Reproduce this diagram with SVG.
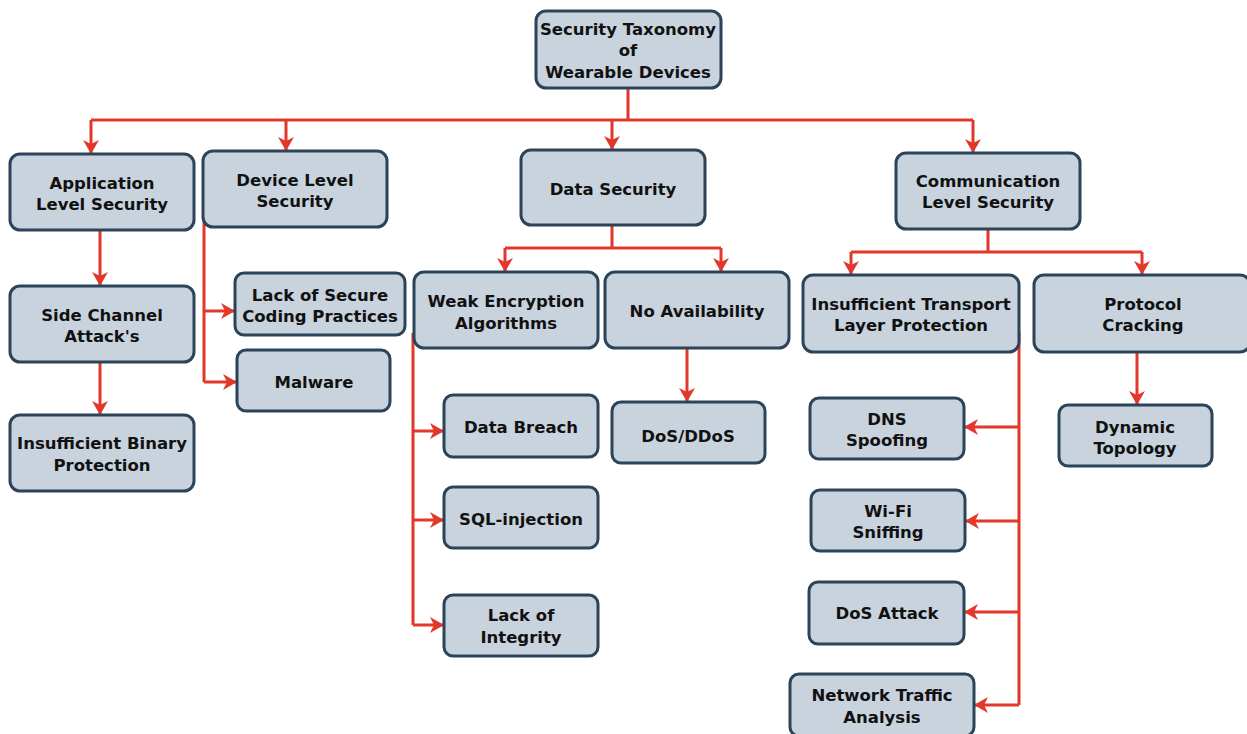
<svg xmlns="http://www.w3.org/2000/svg" width="1247" height="734" viewBox="0 0 1247 734">
<defs>
<style>
.n rect{fill:#c8d3de;stroke:#2b4459;stroke-width:3}
.n text{font-family:"DejaVu Sans","Verdana",sans-serif;font-weight:bold;font-size:16.5px;fill:#111;text-anchor:middle}
.c path{fill:none;stroke:#e2372a;stroke-width:3;stroke-linejoin:miter}
.c path.a{marker-end:url(#ah)}
</style>
<marker id="ah" markerUnits="userSpaceOnUse" viewBox="0 0 14 16" markerWidth="14" markerHeight="16" refX="14" refY="8" orient="auto">
<path d="M0,0 L14,8 L0,16 L4,8 z" fill="#e2372a"/>
</marker>
</defs>
<rect width="1247" height="734" fill="#fff"/>
<g class="c" id="connectors">
<path d="M628,88 V120"/>
<path d="M91,120 H973"/>
<path class="a" d="M91,120 V154"/>
<path class="a" d="M286,120 V151"/>
<path class="a" d="M612,120 V150"/>
<path class="a" d="M973,120 V153"/>
<path class="a" d="M100,230 V286"/>
<path class="a" d="M100,362 V415"/>
<path d="M204,212 V382"/>
<path class="a" d="M204,311 H235"/>
<path class="a" d="M204,382 H237"/>
<path d="M612,225 V248"/>
<path d="M505,248 H721"/>
<path class="a" d="M505,248 V272"/>
<path class="a" d="M721,248 V272"/>
<path d="M413,333 V625"/>
<path class="a" d="M413,431 H444"/>
<path class="a" d="M413,520 H444"/>
<path class="a" d="M413,625 H444"/>
<path class="a" d="M687,348 V402"/>
<path d="M988,229 V252"/>
<path d="M851,252 H1142"/>
<path class="a" d="M851,252 V275"/>
<path class="a" d="M1142,252 V275"/>
<path d="M1019,332 V705"/>
<path class="a" d="M1019,427 H964"/>
<path class="a" d="M1019,521 H965"/>
<path class="a" d="M1019,612 H964"/>
<path class="a" d="M1019,705 H974"/>
<path class="a" d="M1137,352 V405"/>
</g>
<g class="n" id="root"><rect x="536" y="11" width="185" height="77" rx="10"/><text x="628" y="35">Security Taxonomy</text><text x="628" y="56">of</text><text x="628" y="78">Wearable Devices</text></g>
<g class="n" id="app"><rect x="10" y="154" width="184" height="76" rx="10"/><text x="102" y="189">Application</text><text x="102" y="210">Level Security</text></g>
<g class="n" id="device"><rect x="203" y="151" width="184" height="76" rx="10"/><text x="295" y="186">Device Level</text><text x="295" y="207">Security</text></g>
<g class="n" id="data"><rect x="521" y="150" width="184" height="75" rx="10"/><text x="613" y="195">Data Security</text></g>
<g class="n" id="comm"><rect x="896" y="153" width="184" height="76" rx="10"/><text x="988" y="187">Communication</text><text x="988" y="208">Level Security</text></g>
<g class="n" id="side"><rect x="10" y="286" width="184" height="76" rx="10"/><text x="102" y="321">Side Channel</text><text x="102" y="342">Attack's</text></g>
<g class="n" id="binary"><rect x="10" y="415" width="184" height="76" rx="10"/><text x="102" y="449">Insufficient Binary</text><text x="102" y="471">Protection</text></g>
<g class="n" id="coding"><rect x="235" y="273" width="170" height="62" rx="9"/><text x="320" y="301">Lack of Secure</text><text x="320" y="322">Coding Practices</text></g>
<g class="n" id="malware"><rect x="237" y="350" width="153" height="61" rx="9"/><text x="314" y="388">Malware</text></g>
<g class="n" id="weak"><rect x="414" y="272" width="184" height="76" rx="10"/><text x="506" y="307">Weak Encryption</text><text x="506" y="329">Algorithms</text></g>
<g class="n" id="noavail"><rect x="605" y="272" width="184" height="76" rx="10"/><text x="697" y="317">No Availability</text></g>
<g class="n" id="breach"><rect x="444" y="395" width="154" height="62" rx="9"/><text x="521" y="433">Data Breach</text></g>
<g class="n" id="sql"><rect x="444" y="487" width="154" height="61" rx="9"/><text x="521" y="525">SQL-injection</text></g>
<g class="n" id="integrity"><rect x="444" y="595" width="154" height="61" rx="9"/><text x="521" y="621">Lack of</text><text x="521" y="643">Integrity</text></g>
<g class="n" id="ddos"><rect x="612" y="402" width="153" height="61" rx="9"/><text x="688" y="442">DoS/DDoS</text></g>
<g class="n" id="itlp"><rect x="803" y="275" width="216" height="77" rx="10"/><text x="911" y="310">Insufficient Transport</text><text x="911" y="331">Layer Protection</text></g>
<g class="n" id="protocol"><rect x="1034" y="275" width="216" height="77" rx="10"/><text x="1143" y="310">Protocol</text><text x="1143" y="331">Cracking</text></g>
<g class="n" id="dns"><rect x="810" y="398" width="154" height="61" rx="9"/><text x="887" y="425">DNS</text><text x="887" y="446">Spoofing</text></g>
<g class="n" id="dynamic"><rect x="1059" y="405" width="153" height="61" rx="9"/><text x="1135" y="433">Dynamic</text><text x="1135" y="454">Topology</text></g>
<g class="n" id="wifi"><rect x="811" y="490" width="154" height="61" rx="9"/><text x="888" y="517">Wi-Fi</text><text x="888" y="538">Sniffing</text></g>
<g class="n" id="dosattack"><rect x="809" y="582" width="155" height="62" rx="9"/><text x="887" y="619">DoS Attack</text></g>
<g class="n" id="traffic"><rect x="790" y="674" width="184" height="62" rx="9"/><text x="882" y="701">Network Traffic</text><text x="882" y="723">Analysis</text></g>
</svg>
